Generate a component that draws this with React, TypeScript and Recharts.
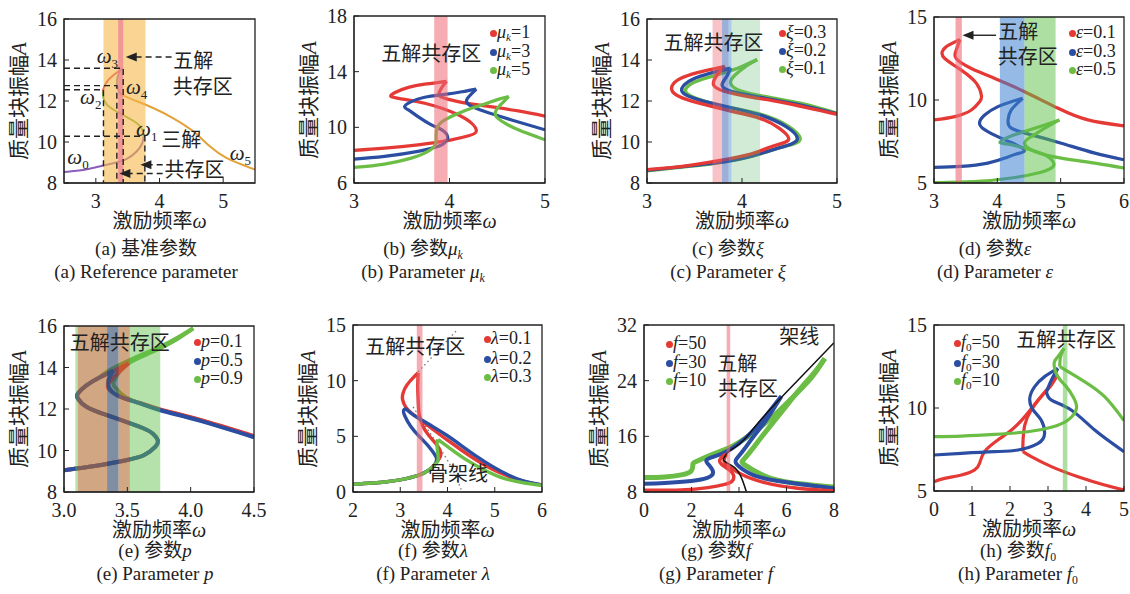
import React from 'react';
import { LineChart, Line, XAxis, YAxis, ReferenceArea, ReferenceDot } from 'recharts';

type Pt = { x: number; y: number };
const pts = (a: number[][]): Pt[] => a.map(([x, y]) => ({ x, y }));

const FONT = "'Liberation Serif','Tinos','DejaVu Serif','Noto Sans CJK SC',serif";
const INK = '#222';
const RED = '#e53935';
const BLUE = '#2b4ea3';
const GREEN = '#6bbd45';
const PINK = '#ec6a74';

/* ---------- (a) reference parameter ---------- */
const aTicksX = [3, 4, 5];
const aTicksY = [8, 10, 12, 14, 16];
const aPurple = pts([[2.5, 8.54], [2.7, 8.6], [2.9, 8.7], [3.1, 8.84], [3.32, 9.0], [3.48, 9.17], [3.64, 9.54], [3.73, 9.95], [3.75, 10.28]]);
const aGreen = pts([[3.75, 10.28], [3.73, 10.6], [3.64, 10.93], [3.48, 11.22], [3.32, 11.5], [3.18, 11.8], [3.12, 12.15], [3.11, 12.47]]);
const aRed = pts([[3.11, 12.47], [3.16, 12.88], [3.27, 13.24], [3.42, 13.6]]);
const aGray = pts([[3.42, 13.6], [3.36, 13.35], [3.33, 12.96], [3.35, 12.55], [3.4, 12.31]]);
const aOrange = pts([[3.4, 12.31], [3.58, 12.07], [3.9, 11.66], [4.21, 11.17], [4.53, 10.52], [4.79, 9.79], [5.05, 9.22], [5.26, 8.94], [5.5, 8.65]]);
const aGuide3 = pts([[2.5, 13.6], [3.43, 13.6], [3.43, 8]]);
const aGuide4 = pts([[2.5, 12.75], [3.33, 12.75], [3.33, 8]]);
const aGuide2 = pts([[2.5, 12.55], [3.12, 12.55], [3.12, 8]]);
const aGuide1 = pts([[2.5, 10.28], [3.77, 10.28], [3.77, 8]]);
const aArrow1 = pts([[4.19, 14.15], [3.6, 14.15]]);
const aArrow2 = pts([[4.05, 8.89], [3.84, 8.89]]);
const aArrow3 = pts([[4.05, 8.46], [3.5, 8.46]]);
const aHeads = pts([[3.47, 14.15], [3.7, 8.89], [3.37, 8.46]]);

/* ---------- (b) mu_k ---------- */
const bTicksX = [3, 4, 5];
const bTicksY = [6, 10, 14, 18];
const bRed = pts([[3, 8.34], [3.32, 8.5], [3.67, 8.74], [3.85, 8.91], [4.02, 9.1], [4.2, 9.39], [4.28, 9.7], [4.23, 10.3], [4.09, 10.9], [3.92, 11.37], [3.74, 11.73], [3.53, 12.01], [3.39, 12.2], [3.43, 12.5], [3.57, 12.87], [3.74, 13.1], [3.88, 13.22], [3.97, 13.3], [3.92, 12.87], [3.89, 12.44], [3.92, 12.16], [4.09, 11.85], [4.37, 11.54], [4.72, 11.18], [5, 10.8]]);
const bBlue = pts([[3, 7.72], [3.32, 7.91], [3.67, 8.27], [3.81, 8.5], [3.92, 8.74], [3.98, 9.2], [3.96, 9.6], [3.9, 9.9], [3.81, 10.18], [3.67, 10.77], [3.57, 11.25], [3.53, 11.5], [3.6, 11.85], [3.74, 12.16], [3.95, 12.37], [4.13, 12.56], [4.28, 12.75], [4.23, 12.4], [4.18, 11.97], [4.21, 11.6], [4.37, 11.13], [4.65, 10.53], [5, 9.82]]);
const bGreen = pts([[3, 7.12], [3.32, 7.36], [3.6, 7.79], [3.74, 8.15], [3.84, 8.63], [3.86, 9.2], [3.87, 9.94], [3.95, 10.53], [4.09, 11.0], [4.23, 11.37], [4.37, 11.68], [4.51, 12.01], [4.62, 12.22], [4.55, 11.73], [4.49, 11.25], [4.49, 10.77], [4.58, 10.3], [4.72, 9.82], [5, 9.1]]);

/* ---------- (c) xi ---------- */
const cTicksX = [3, 4, 5];
const cTicksY = [8, 10, 12, 14, 16];
const cRed = pts([[3, 8.65], [3.37, 8.81], [3.72, 9.06], [4.07, 9.38], [4.32, 9.79], [4.49, 10.11], [4.39, 10.68], [4.18, 11.17], [3.89, 11.5], [3.61, 11.82], [3.37, 12.15], [3.26, 12.55], [3.33, 13.04], [3.54, 13.4], [3.75, 13.61], [3.82, 13.69], [3.74, 13.28], [3.7, 12.8], [3.82, 12.47], [4.11, 12.18], [4.46, 11.9], [5, 11.35]]);
const cBlue = pts([[3, 8.62], [3.72, 8.98], [4.11, 9.33], [4.39, 9.71], [4.58, 10.11], [4.46, 10.76], [4.18, 11.33], [3.82, 11.74], [3.54, 12.07], [3.37, 12.45], [3.44, 12.96], [3.61, 13.28], [3.79, 13.5], [3.88, 13.61], [3.84, 13.2], [3.79, 12.8], [3.89, 12.47], [4.25, 12.13], [4.6, 11.82], [5, 11.38]]);
const cGreen = pts([[3, 8.6], [3.72, 8.96], [4.14, 9.35], [4.42, 9.75], [4.61, 10.1], [4.49, 10.76], [4.21, 11.33], [3.86, 11.7], [3.58, 12.03], [3.41, 12.42], [3.49, 12.9], [3.74, 13.28], [3.96, 13.61], [4.16, 14.02], [4.04, 13.69], [3.93, 13.28], [3.88, 12.88], [4.0, 12.47], [4.32, 12.15], [4.68, 11.82], [5, 11.4]]);

/* ---------- (d) epsilon ---------- */
const dTicksX = [3, 4, 5, 6];
const dTicksY = [5, 10, 15];
const dRed = pts([[3, 8.8], [3.33, 9.0], [3.59, 9.4], [3.72, 9.9], [3.75, 10.24], [3.67, 11.0], [3.43, 11.8], [3.17, 12.5], [3.13, 12.9], [3.19, 13.2], [3.33, 13.5], [3.41, 13.64], [3.35, 13.0], [3.35, 12.5], [3.59, 11.9], [3.96, 11.3], [4.43, 10.5], [4.96, 9.5], [5.43, 8.8], [6, 8.44]]);
const dBlue = pts([[3, 5.94], [3.43, 6.0], [3.85, 6.2], [4.12, 6.5], [4.3, 6.75], [4.43, 6.95], [4.3, 7.3], [4.12, 7.6], [3.85, 8.1], [3.72, 8.56], [3.8, 9.1], [4.01, 9.6], [4.22, 9.9], [4.4, 10.1], [4.22, 9.4], [4.17, 8.8], [4.22, 8.3], [4.54, 7.9], [5.01, 7.4], [5.54, 6.8], [6, 6.4]]);
const dGreen = pts([[3, 5.02], [3.69, 5.1], [4.22, 5.3], [4.64, 5.6], [4.85, 5.9], [4.89, 6.2], [4.75, 6.7], [4.43, 7.1], [4.17, 7.34], [4.04, 7.44], [4.17, 7.76], [4.43, 8.1], [4.75, 8.5], [4.98, 8.8], [4.75, 8.3], [4.54, 7.8], [4.43, 7.4], [4.59, 6.9], [5.01, 6.5], [5.54, 6.2], [6, 5.9]]);
const dArrow = pts([[3.98, 13.9], [3.5, 13.9]]);
const dHeads = pts([[3.45, 13.9]]);

/* ---------- (e) p ---------- */
const eTicksX = [3, 3.5, 4, 4.5];
const eTicksY = [8, 10, 12, 14, 16];
const eShared = [[3, 9.05], [3.1, 9.13], [3.28, 9.29], [3.49, 9.53], [3.63, 9.77], [3.72, 10.17], [3.74, 10.5], [3.7, 10.82], [3.63, 11.06], [3.49, 11.38], [3.34, 11.7], [3.18, 12.1], [3.11, 12.5], [3.11, 12.75], [3.18, 13.15], [3.28, 13.52]];
const eRed = pts([...eShared, [3.39, 13.82], [3.51, 14.2], [3.42, 13.7], [3.36, 13.3], [3.35, 13.0], [3.44, 12.6], [3.6, 12.29], [3.76, 11.98], [4.07, 11.49], [4.5, 10.7]]);
const eBlue = pts([...eShared, [3.39, 13.85], [3.35, 13.39], [3.36, 12.99], [3.44, 12.6], [3.6, 12.27], [3.76, 11.94], [4.07, 11.44], [4.5, 10.64]]);
const eGreen = pts([...eShared, [3.34, 13.8], [3.55, 14.44], [3.76, 15.0], [3.92, 15.52], [4.02, 15.89], [3.86, 15.25], [3.68, 14.71], [3.49, 14.12], [3.4, 13.4], [3.4, 13.07], [3.48, 12.6], [3.6, 12.28], [3.76, 11.96], [4.07, 11.47], [4.5, 10.67]]);

/* ---------- (f) lambda ---------- */
const fTicksX = [2, 3, 4, 5, 6];
const fTicksY = [0, 5, 10, 15];
const fLow = [[2, 0.69], [2.67, 0.9], [3.02, 1.11], [3.38, 1.5], [3.6, 1.95], [3.72, 2.4]];
const fRed = pts([...fLow, [3.82, 2.95], [3.86, 3.45], [3.78, 4.2], [3.6, 5.1], [3.47, 6.0], [3.4, 7.0], [3.38, 8.2], [3.37, 9.4], [3.38, 10.7], [3.28, 10.3], [3.14, 9.6], [3.06, 8.9], [3.05, 8.3], [3.12, 7.6], [3.25, 7.05], [3.45, 6.4], [3.7, 5.6], [4.0, 4.65], [4.3, 3.75], [4.6, 2.9], [4.95, 2.05], [5.3, 1.4], [5.6, 0.97], [6, 0.62]]);
const fBlue = pts([...fLow, [3.77, 2.9], [3.74, 3.3], [3.6, 4.1], [3.4, 5.0], [3.22, 5.9], [3.1, 6.8], [3.07, 7.3], [3.12, 7.45], [3.22, 7.1], [3.4, 6.6], [3.7, 5.85], [4.0, 5.05], [4.3, 4.15], [4.6, 3.25], [4.95, 2.3], [5.3, 1.5], [5.6, 1.0], [6, 0.62]]);
const fGreen = pts([...fLow, [3.8, 2.85], [3.79, 3.6], [3.78, 4.4], [3.8, 4.7], [4.01, 4.05], [4.36, 3.0], [4.79, 1.95], [5.21, 1.2], [5.63, 0.81], [6, 0.6]]);
const fBone1 = pts([[3.38, 10.8], [3.8, 12.7], [4.19, 14.5]]);
const fBone2 = pts([[3.27, 7.65], [3.73, 4.65], [4.08, 2.25], [4.29, 0.21]]);

/* ---------- (g) f ---------- */
const gTicksX = [0, 2, 4, 6, 8];
const gTicksY = [8, 16, 24, 32];
const gRed = pts([[0, 8.24], [1.57, 8.29], [2.69, 8.63], [3.4, 9.1], [3.72, 9.6], [3.76, 10.5], [3.54, 11.28], [3.26, 12.0], [3.19, 12.58], [3.33, 13.2], [3.47, 13.45], [3.37, 12.48], [3.54, 11.76], [4.1, 10.55], [5.08, 9.35], [6.48, 8.53], [8, 8.15]]);
const gBlue = pts([[0, 9.2], [0.87, 9.3], [1.99, 9.59], [2.69, 10.07], [2.91, 10.8], [2.76, 11.76], [2.62, 12.48], [2.84, 12.96], [3.4, 13.69], [3.96, 14.89], [4.52, 16.58], [5.08, 18.75], [5.64, 21.16], [5.78, 21.73], [5.5, 20.19], [5.08, 18.02], [4.59, 15.86], [4.17, 13.93], [3.89, 12.72], [3.93, 11.9], [4.52, 10.55], [5.64, 9.59], [8, 8.53]]);
const gGreen = pts([[0, 10.07], [0.87, 10.17], [1.57, 10.46], [1.99, 11.04], [2.06, 12.0], [2.2, 12.39], [2.84, 13.35], [3.68, 14.51], [4.52, 16.34], [5.36, 18.65], [6.2, 21.4], [7.05, 24.43], [7.61, 27.18], [7.19, 25.25], [6.62, 22.99], [6.06, 20.67], [5.5, 18.27], [4.94, 15.86], [4.45, 13.69], [4.17, 12.58], [4.24, 11.9], [5.08, 10.31], [6.2, 9.35], [8, 8.72]]);
const gBlack = pts([[4.31, 8.05], [4.1, 10.07], [3.82, 11.5], [3.47, 12.24], [3.33, 12.7], [3.54, 13.7], [3.82, 14.4], [4.24, 15.6], [5.08, 19.0], [6.48, 24.05], [8, 29.45]]);

/* ---------- (h) f0 ---------- */
const hTicksX = [0, 1, 2, 3, 4, 5];
const hTicksY = [5, 10, 15];
const hRed = pts([[0, 5.56], [0.28, 5.76], [0.72, 5.96], [1.07, 6.27], [1.2, 6.67], [1.33, 7.37], [1.68, 8.07], [2.04, 8.67], [2.39, 9.48], [2.74, 10.48], [3.0, 11.19], [3.25, 12.0], [3.09, 11.39], [2.82, 10.68], [2.56, 9.88], [2.39, 8.98], [2.34, 7.87], [2.34, 7.37], [2.56, 7.07], [3.09, 6.47], [3.79, 5.86], [4.49, 5.36], [5, 5.06]]);
const hBlue = pts([[0, 7.17], [0.72, 7.27], [1.6, 7.37], [2.21, 7.47], [2.74, 7.87], [2.91, 8.47], [2.82, 9.28], [2.61, 9.88], [2.52, 10.58], [2.65, 11.29], [2.91, 11.89], [3.26, 12.39], [3.09, 11.69], [2.96, 10.98], [3.09, 10.48], [3.61, 9.88], [4.23, 8.67], [5, 7.37]]);
const hGreen = pts([[0, 8.27], [0.72, 8.31], [1.6, 8.41], [2.47, 8.57], [3.09, 8.84], [3.53, 9.28], [3.75, 9.98], [3.66, 10.68], [3.48, 11.29], [3.26, 11.89], [3.16, 12.69], [3.26, 13.09], [3.42, 13.6], [3.33, 13.09], [3.31, 12.49], [3.53, 12.19], [3.96, 11.59], [4.49, 10.68], [5, 9.24]]);

/* ---------- types & rendering ---------- */
type Series = { data: Pt[]; color: string; width: number; dash?: string; curve?: 'natural' | 'linear'; cuts?: number[] };
type Band = { x1: number; x2: number; fill: string; op: number };
type Note = { x: number; y: number; node: React.ReactNode; size?: number };
type PanelCfg = {
  L: number; T: number; R: number; B: number;
  xd: [number, number]; yd: [number, number]; xt: number[]; yt: number[];
  xf?: (v: number) => string;
  series: Series[]; bands: Band[]; overlays?: Series[]; notes?: Note[]; heads?: Pt[];
};

// split a curve at cusp indices so that each smooth piece is drawn separately (sharp tips stay sharp)
const pieces = (s: Series): Pt[][] => {
  const cuts = s.cuts ?? [];
  const out: Pt[][] = [];
  let start = 0;
  cuts.forEach((c) => { out.push(s.data.slice(start, c + 1)); start = c; });
  out.push(s.data.slice(start));
  return out;
};

const Om = ({ n }: { n: string }) => (
  <>
    <tspan fontStyle="italic">ω</tspan>
    <tspan fontSize={13} dy={5}>{n}</tspan>
  </>
);

const guide = (data: Pt[]): Series => ({ data, color: INK, width: 1.4, dash: '6 4', curve: 'linear' });

const panels: PanelCfg[] = [
  {
    L: 64, T: 19, R: 255, B: 183, xd: [2.5, 5.5], yd: [8, 16], xt: aTicksX, yt: aTicksY,
    series: [
      { data: aPurple, color: '#8b5cb8', width: 2 },
      { data: aGreen, color: '#7fb33a', width: 2 },
      { data: aRed, color: '#e0455a', width: 2 },
      { data: aGray, color: '#7d8a80', width: 2 },
      { data: aOrange, color: '#e3a138', width: 2 },
    ],
    bands: [
      { x1: 3.12, x2: 3.78, fill: '#f5b84a', op: 0.6 },
      { x1: 3.35, x2: 3.43, fill: '#ee7f99', op: 0.7 },
    ],
    overlays: [guide(aGuide3), guide(aGuide4), guide(aGuide2), guide(aGuide1), guide(aArrow1), guide(aArrow2), guide(aArrow3)],
    heads: aHeads,
    notes: [
      { x: 4.53, y: 13.93, node: '五解' },
      { x: 4.68, y: 12.68, node: '共存区' },
      { x: 4.34, y: 10.11, node: '三解' },
      { x: 4.55, y: 8.62, node: '共存区' },
      { x: 2.72, y: 9.3, node: <Om n="0" />, size: 21 },
      { x: 3.8, y: 10.63, node: <Om n="1" />, size: 21 },
      { x: 2.92, y: 12.23, node: <Om n="2" />, size: 21 },
      { x: 3.18, y: 14.21, node: <Om n="3" />, size: 21 },
      { x: 3.64, y: 12.68, node: <Om n="4" />, size: 21 },
      { x: 5.27, y: 9.46, node: <Om n="5" />, size: 21 },
    ],
  },
  {
    L: 354, T: 16, R: 545, B: 183, xd: [3, 5], yd: [6, 18], xt: bTicksX, yt: bTicksY,
    series: [
      { data: bRed, color: RED, width: 3.2, cuts: [17] },
      { data: bBlue, color: BLUE, width: 3.2, cuts: [16] },
      { data: bGreen, color: GREEN, width: 3.2, cuts: [12] },
    ],
    bands: [{ x1: 3.84, x2: 3.98, fill: PINK, op: 0.55 }],
    notes: [{ x: 3.81, y: 15.3, node: '五解共存区' }],
  },
  {
    L: 647, T: 19, R: 837, B: 183, xd: [3, 5], yd: [8, 16], xt: cTicksX, yt: cTicksY,
    series: [
      { data: cGreen, color: GREEN, width: 3.4, cuts: [13] },
      { data: cBlue, color: BLUE, width: 3.4, cuts: [13] },
      { data: cRed, color: RED, width: 3.4, cuts: [15] },
    ],
    bands: [
      { x1: 3.69, x2: 3.79, fill: PINK, op: 0.4 },
      { x1: 3.79, x2: 3.86, fill: '#3d5fb0', op: 0.5 },
      { x1: 3.86, x2: 3.89, fill: '#3d8fd0', op: 0.45 },
      { x1: 3.89, x2: 4.19, fill: '#5cb870', op: 0.28 },
    ],
    notes: [{ x: 3.7, y: 14.83, node: '五解共存区' }],
  },
  {
    L: 934, T: 17, R: 1124, B: 183, xd: [3, 6], yd: [5, 15], xt: dTicksX, yt: dTicksY,
    series: [
      { data: dRed, color: RED, width: 3.2, cuts: [11] },
      { data: dBlue, color: BLUE, width: 3.2, cuts: [13] },
      { data: dGreen, color: GREEN, width: 3.2, cuts: [13] },
    ],
    bands: [
      { x1: 3.34, x2: 3.44, fill: PINK, op: 0.6 },
      { x1: 4.04, x2: 4.43, fill: '#3d82d0', op: 0.55 },
      { x1: 4.43, x2: 4.92, fill: '#5cbf45', op: 0.5 },
    ],
    overlays: [{ data: dArrow, color: INK, width: 1.4, curve: 'linear' }],
    heads: dHeads,
    notes: [
      { x: 4.33, y: 14.1, node: '五解' },
      { x: 4.48, y: 12.6, node: '共存区' },
    ],
  },
  {
    L: 64, T: 326, R: 254, B: 492, xd: [3, 4.5], yd: [8, 16], xt: eTicksX, yt: eTicksY,
    xf: (v: number) => v.toFixed(1),
    series: [
      { data: eGreen, color: GREEN, width: 4, cuts: [20] },
      { data: eRed, color: RED, width: 4, cuts: [17] },
      { data: eBlue, color: BLUE, width: 4, cuts: [16] },
    ],
    bands: [
      { x1: 3.09, x2: 3.11, fill: '#5cbf45', op: 0.45 },
      { x1: 3.52, x2: 3.76, fill: '#5cbf45', op: 0.45 },
      { x1: 3.11, x2: 3.34, fill: '#b06a30', op: 0.6 },
      { x1: 3.43, x2: 3.52, fill: '#b06a30', op: 0.6 },
      { x1: 3.34, x2: 3.43, fill: '#3a5270', op: 0.65 },
    ],
    notes: [{ x: 3.44, y: 15.17, node: '五解共存区' }],
  },
  {
    L: 353, T: 325, R: 542, B: 492, xd: [2, 6], yd: [0, 15], xt: fTicksX, yt: fTicksY,
    series: [
      { data: fBone1, color: '#777', width: 1.3, dash: '1.5 3', curve: 'linear' },
      { data: fBone2, color: '#777', width: 1.3, dash: '1.5 3' },
      { data: fRed, color: RED, width: 3.4, cuts: [14] },
      { data: fBlue, color: BLUE, width: 3.4 },
      { data: fGreen, color: GREEN, width: 3.4, cuts: [9] },
    ],
    bands: [{ x1: 3.35, x2: 3.47, fill: PINK, op: 0.55 }],
    notes: [
      { x: 3.32, y: 13.05, node: '五解共存区' },
      { x: 4.22, y: 1.65, node: '骨架线' },
    ],
  },
  {
    L: 644, T: 325, R: 834, B: 492, xd: [0, 8], yd: [8, 32], xt: gTicksX, yt: gTicksY,
    series: [
      { data: gGreen, color: GREEN, width: 5, cuts: [12] },
      { data: gBlue, color: BLUE, width: 4, cuts: [13] },
      { data: gRed, color: RED, width: 3.5, cuts: [10] },
      { data: gBlack, color: '#111', width: 1.5, cuts: [4] },
    ],
    bands: [{ x1: 3.48, x2: 3.63, fill: PINK, op: 0.55 }],
    notes: [
      { x: 3.93, y: 26.46, node: '五解' },
      { x: 4.38, y: 22.84, node: '共存区' },
      { x: 6.54, y: 30.3, node: '架线' },
    ],
  },
  {
    L: 934, T: 325, R: 1124, B: 491, xd: [0, 5], yd: [5, 15], xt: hTicksX, yt: hTicksY,
    series: [
      { data: hRed, color: RED, width: 3.2, cuts: [11, 17] },
      { data: hBlue, color: BLUE, width: 3.2, cuts: [11, 13] },
      { data: hGreen, color: GREEN, width: 3.2, cuts: [12, 14] },
    ],
    bands: [{ x1: 3.39, x2: 3.51, fill: '#5cbf45', op: 0.5 }],
    notes: [{ x: 3.48, y: 14.1, node: '五解共存区' }],
  },
];

function Panel({ c }: { c: PanelCfg }) {
  const w = c.R - c.L + 90;
  const h = c.B - c.T + 80;
  const tick = { fontFamily: FONT, fontSize: 20, fill: INK };
  const lines: { s: Series; d: Pt[] }[] = [];
  c.series.forEach((s) => pieces(s).forEach((d) => lines.push({ s, d })));
  return (
    <div style={{ position: 'absolute', left: c.L - 70, top: c.T - 20 }}>
      <LineChart width={w} height={h} margin={{ top: 20, right: 20, bottom: 0, left: 0 }}>
        <XAxis type="number" dataKey="x" domain={c.xd} ticks={c.xt} interval={0} allowDataOverflow height={60}
          tickSize={-5} tickMargin={16} tick={tick} stroke={INK} tickFormatter={c.xf} />
        <YAxis type="number" dataKey="y" domain={c.yd} ticks={c.yt} interval={0} allowDataOverflow width={70}
          tickSize={-5} tickMargin={12} tick={tick} stroke={INK} />
        {lines.map((l, i) => (
          <Line key={'s' + i} data={l.d} dataKey="y" type={l.s.curve ?? 'natural'} stroke={l.s.color}
            strokeWidth={l.s.width} strokeDasharray={l.s.dash} dot={false} activeDot={false}
            isAnimationActive={false} {...({ zIndex: 400 } as any)} />
        ))}
        {c.bands.map((b, i) => (
          <ReferenceArea key={'b' + i} x1={b.x1} x2={b.x2} fill={b.fill} fillOpacity={b.op} stroke="none"
            ifOverflow="visible" {...({ zIndex: 450 } as any)} />
        ))}
        {(c.overlays ?? []).map((s, i) => (
          <Line key={'o' + i} data={s.data} dataKey="y" type={s.curve ?? 'linear'} stroke={s.color}
            strokeWidth={s.width} strokeDasharray={s.dash} dot={false} activeDot={false}
            isAnimationActive={false} {...({ zIndex: 460 } as any)} />
        ))}
        {(c.heads ?? []).map((p, i) => (
          <ReferenceDot key={'h' + i} x={p.x} y={p.y} r={0} ifOverflow="visible" {...({ zIndex: 1600 } as any)}
            shape={(q: any) => (
              <polygon points={`${q.cx},${q.cy} ${q.cx + 11},${q.cy - 4.5} ${q.cx + 11},${q.cy + 4.5}`} fill={INK} />
            )} />
        ))}
        {(c.notes ?? []).map((n, i) => (
          <ReferenceDot key={'n' + i} x={n.x} y={n.y} r={0} ifOverflow="visible" {...({ zIndex: 1700 } as any)}
            shape={(q: any) => (
              <text x={q.cx} y={q.cy} dy="0.35em" textAnchor="middle" fontFamily={FONT}
                fontSize={n.size ?? 20} fill={INK}>{n.node}</text>
            )} />
        ))}
        <ReferenceArea x1={c.xd[0]} x2={c.xd[1]} y1={c.yd[0]} y2={c.yd[1]} fill="none" stroke={INK}
          strokeWidth={1.3} ifOverflow="visible" {...({ zIndex: 1500 } as any)} />
      </LineChart>
    </div>
  );
}

const Center = ({ x, y, size, rotate, children }: { x: number; y: number; size: number; rotate?: boolean; children: React.ReactNode }) => (
  <div style={{
    position: 'absolute', left: x, top: y,
    transform: `translate(-50%,-50%)${rotate ? ' rotate(-90deg)' : ''}`,
    fontFamily: FONT, fontSize: size, lineHeight: 1, whiteSpace: 'nowrap', color: INK,
  }}>{children}</div>
);

const Sub = ({ children, italic }: { children: React.ReactNode; italic?: boolean }) => (
  <span style={{ fontSize: '0.62em', position: 'relative', top: '0.3em', fontStyle: italic ? 'italic' : 'normal' }}>{children}</span>
);

type LegItem = { color: string; label: React.ReactNode };
function Legend({ x, ys, items }: { x: number; ys: number[]; items: LegItem[] }) {
  return (
    <>
      {items.map((it, i) => (
        <React.Fragment key={i}>
          <div style={{ position: 'absolute', left: x - 3.5, top: ys[i] - 3.5, width: 7, height: 7, borderRadius: '50%', background: it.color }} />
          <div style={{ position: 'absolute', left: x + 4, top: ys[i], transform: 'translateY(-50%)', fontFamily: FONT, fontSize: 18, lineHeight: 0.85, whiteSpace: 'nowrap', color: INK }}>{it.label}</div>
        </React.Fragment>
      ))}
    </>
  );
}

const mu = (v: string) => <><i>μ</i><Sub italic>k</Sub>={v}</>;
const legendB: LegItem[] = [{ color: RED, label: mu('1') }, { color: BLUE, label: mu('3') }, { color: GREEN, label: mu('5') }];
const legendC: LegItem[] = [{ color: RED, label: <><i>ξ</i>=0.3</> }, { color: BLUE, label: <><i>ξ</i>=0.2</> }, { color: GREEN, label: <><i>ξ</i>=0.1</> }];
const legendD: LegItem[] = [{ color: RED, label: <><i>ε</i>=0.1</> }, { color: BLUE, label: <><i>ε</i>=0.3</> }, { color: GREEN, label: <><i>ε</i>=0.5</> }];
const legendE: LegItem[] = [{ color: RED, label: <><i>p</i>=0.1</> }, { color: BLUE, label: <><i>p</i>=0.5</> }, { color: GREEN, label: <><i>p</i>=0.9</> }];
const legendF: LegItem[] = [{ color: RED, label: <><i>λ</i>=0.1</> }, { color: BLUE, label: <><i>λ</i>=0.2</> }, { color: GREEN, label: <><i>λ</i>=0.3</> }];
const legendG: LegItem[] = [{ color: RED, label: <><i>f</i>=50</> }, { color: BLUE, label: <><i>f</i>=30</> }, { color: GREEN, label: <><i>f</i>=10</> }];
const f0 = (v: string) => <><i>f</i><Sub>0</Sub>={v}</>;
const legendH: LegItem[] = [{ color: RED, label: f0('50') }, { color: BLUE, label: f0('30') }, { color: GREEN, label: f0('10') }];

const captions: { x: number; y: number; zh: React.ReactNode; en: React.ReactNode }[] = [
  { x: 146, y: 248, zh: <>(a) 基准参数</>, en: <>(a) Reference parameter</> },
  { x: 423, y: 248, zh: <>(b) 参数<i>μ</i><Sub italic>k</Sub></>, en: <>(b) Parameter <i>μ</i><Sub italic>k</Sub></> },
  { x: 728, y: 248, zh: <>(c) 参数<i>ξ</i></>, en: <>(c) Parameter <i>ξ</i></> },
  { x: 995, y: 248, zh: <>(d) 参数<i>ε</i></>, en: <>(d) Parameter <i>ε</i></> },
  { x: 155, y: 550, zh: <>(e) 参数<i>p</i></>, en: <>(e) Parameter <i>p</i></> },
  { x: 433, y: 550, zh: <>(f) 参数<i>λ</i></>, en: <>(f) Parameter <i>λ</i></> },
  { x: 716, y: 550, zh: <>(g) 参数<i>f</i></>, en: <>(g) Parameter <i>f</i></> },
  { x: 1018, y: 550, zh: <>(h) 参数<i>f</i><Sub>0</Sub></>, en: <>(h) Parameter <i>f</i><Sub>0</Sub></> },
];

export default function App() {
  return (
    <div style={{ position: 'absolute', left: 0, top: 0, width: 1130, height: 594, background: '#fff', overflow: 'hidden' }}>
      {panels.map((c, i) => <Panel key={i} c={c} />)}
      {panels.map((c, i) => (
        <React.Fragment key={'lab' + i}>
          <Center x={(c.L + c.R) / 2} y={c.B + 38} size={20}>激励频率<i>ω</i></Center>
          <Center x={c.L - 45} y={(c.T + c.B) / 2} size={21} rotate>质量块振幅<i>A</i></Center>
        </React.Fragment>
      ))}
      <Legend x={493} ys={[33, 52, 70]} items={legendB} />
      <Legend x={782} ys={[33, 51, 69]} items={legendC} />
      <Legend x={1072} ys={[33, 52, 70]} items={legendD} />
      <Legend x={197} ys={[342, 361, 379]} items={legendE} />
      <Legend x={487} ys={[339, 359, 377]} items={legendF} />
      <Legend x={669} ys={[344, 363, 381]} items={legendG} />
      <Legend x={957} ys={[343, 363, 381]} items={legendH} />
      {captions.map((c, i) => (
        <React.Fragment key={'cap' + i}>
          <Center x={c.x} y={c.y} size={19}>{c.zh}</Center>
          <Center x={c.x} y={c.y + 23} size={19}>{c.en}</Center>
        </React.Fragment>
      ))}
    </div>
  );
}
